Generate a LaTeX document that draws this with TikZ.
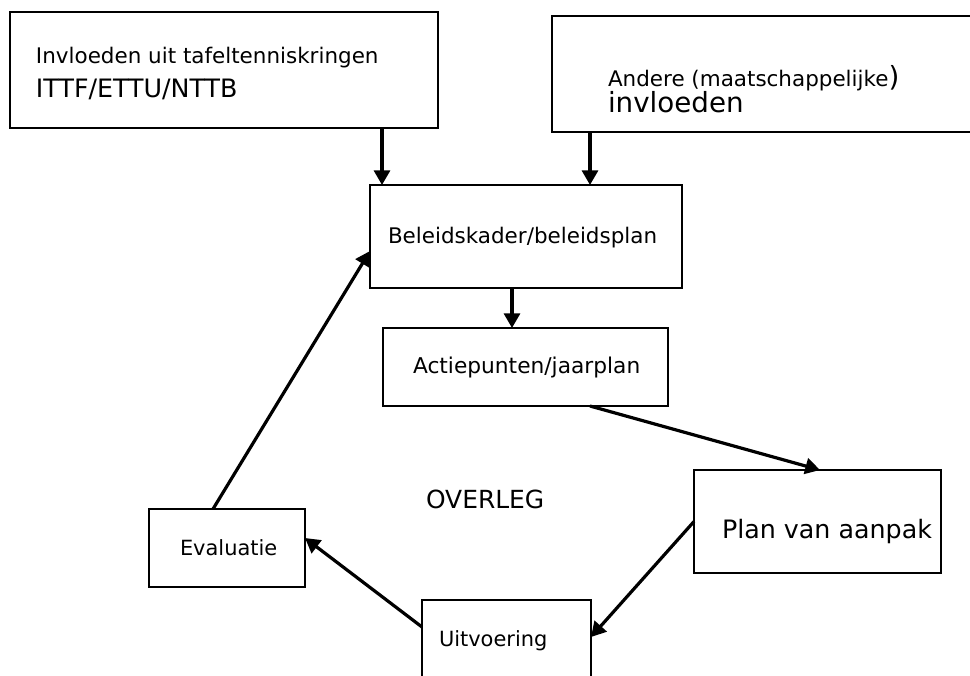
\documentclass[tikz,border=0pt]{standalone}
\usepackage{fontspec}
\setmainfont{DejaVu Sans}
\usetikzlibrary{arrows.meta,fit,calc}
\newcommand{\fpx}[1]{\fontsize{#1}{#1}\selectfont}
\begin{document}
\begin{tikzpicture}[x=0.75pt,y=-0.75pt,
  box/.style={draw,line width=1.1pt,inner sep=0pt,outer sep=0pt},
  txt/.style={inner sep=0pt,outer sep=0pt,anchor=base west},
  arr/.style={line width=2.4pt,-{Triangle[length=11pt,width=12pt]}}]
\clip (0,0) rectangle (970,675);
\fill[white] (0,0) rectangle (970,675);
% boxes
\node[box,fit={(10,12) (438,128)}] (b1) {};
\node[box,fit={(552,16) (990,132)}] (b2) {};
\node[box,fit={(370,185) (682,288)}] (bk) {};
\node[box,fit={(383,328) (668,406)}] (ap) {};
\node[box,fit={(694,470) (941,573)}] (pa) {};
\node[box,fit={(422,600) (591,700)}] (uv) {};
\node[box,fit={(149,509) (305,587)}] (ev) {};
% texts
\node[txt] (t1a) at (36,63) {\fpx{16.1pt}Invloeden uit tafeltenniskringen};
\node[txt] (t1b) at (36,97) {\fpx{19pt}ITTF/ETTU/NTTB};
\node[txt] (t2a) at (608,86) {\fpx{16.1pt}Andere (maatschappelijke\fpx{20.8pt})};
\node[txt] (t2b) at (608,112) {\fpx{20.8pt}invloeden};
\node[txt] (tbk) at (388,243) {\fpx{16.1pt}Beleidskader/beleidsplan};
\node[txt] (tap) at (413,373) {\fpx{16.3pt}Actiepunten/jaarplan};
\node[txt] (tpa) at (722,538) {\fpx{19pt}Plan van aanpak};
\node[txt] (tev) at (180,555) {\fpx{15.7pt}Evaluatie};
\node[txt] (tuv) at (439,646) {\fpx{15.7pt}Uitvoering};
\node[txt] (tov) at (426,508) {\fpx{18.7pt}OVERLEG};
% helper coordinates
\coordinate (x1) at (382,0);
\coordinate (x2) at (590,0);
\coordinate (x3) at (512,0);
\coordinate (x4s) at (590,0);
\coordinate (x4e) at (820,0);
\coordinate (y5) at (0,637);
\coordinate (y6s) at (0,627);
\coordinate (y6e) at (0,538);
\coordinate (x7) at (213,0);
\coordinate (y7) at (0,251);
% connectors
\draw[arr] (b1.south -| x1) -- (bk.north -| x1);
\draw[arr] (b2.south -| x2) -- (bk.north -| x2);
\draw[arr] (bk.south -| x3) -- (ap.north -| x3);
\draw[arr] (ap.south -| x4s) -- (pa.north -| x4e);
\draw[arr] (pa.west) -- (uv.east |- y5);
\draw[arr] (uv.west |- y6s) -- (ev.east |- y6e);
\draw[arr] (ev.north -| x7) -- (bk.west |- y7);
\end{tikzpicture}
\end{document}
